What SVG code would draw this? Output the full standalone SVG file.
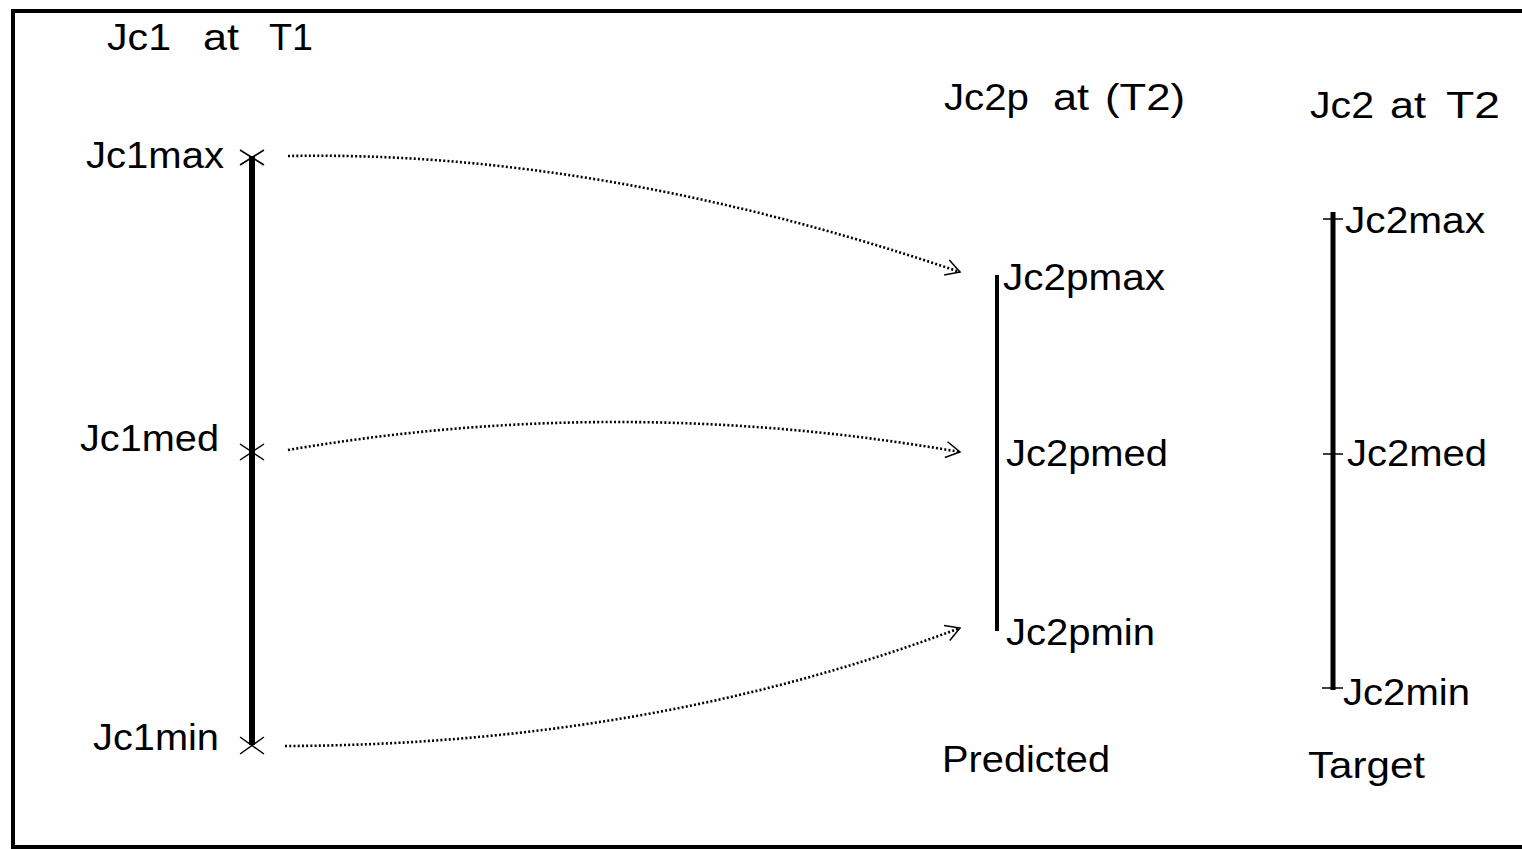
<svg xmlns="http://www.w3.org/2000/svg" width="1522" height="849" viewBox="0 0 1522 849">
  <style>
    text { font-family: "Liberation Sans", Arial, sans-serif; font-size: 36px; fill: #000; }
    .title { font-size: 37px; }
    .axis { stroke: #000; stroke-linecap: butt; }
    .tick { stroke: #000; stroke-width: 1.5; fill: none; }
    .link { fill: none; stroke: #000; stroke-width: 2.6; stroke-dasharray: 2 2.2; }
  </style>
  <defs>
    <marker id="open" markerWidth="18" markerHeight="18" refX="15" refY="9" orient="auto" markerUnits="userSpaceOnUse">
      <path d="M1,1 L15,9 L1,17" fill="none" stroke="#000" stroke-width="1.5"/>
    </marker>
  </defs>
  <rect width="1522" height="849" fill="#fff"/>
  <!-- outer frame (open on the right) -->
  <path d="M1522,11 L13,11 L13,847 L1522,847" fill="none" stroke="#000" stroke-width="4"/>

  <!-- T1 column -->
  <g id="col-t1">
    <text class="title" x="107" y="50" textLength="64" lengthAdjust="spacingAndGlyphs">Jc1</text>
    <text class="title" x="203" y="50" textLength="36" lengthAdjust="spacingAndGlyphs">at</text>
    <text class="title" x="269" y="50" textLength="44" lengthAdjust="spacingAndGlyphs">T1</text>
    <line class="axis" x1="252" y1="156" x2="252" y2="745" stroke-width="6"/>
    <path class="tick" d="M240,150 L264,165 M264,150 L240,165"/>
    <path class="tick" d="M240,444 L264,460 M264,444 L240,460"/>
    <path class="tick" d="M240,737 L264,754 M264,737 L240,754"/>
  </g>
  <g id="jc1max"><text x="86" y="168" textLength="138" lengthAdjust="spacingAndGlyphs">Jc1max</text></g>
  <g id="jc1med"><text x="80" y="451" textLength="139" lengthAdjust="spacingAndGlyphs">Jc1med</text></g>
  <g id="jc1min"><text x="93" y="750" textLength="126" lengthAdjust="spacingAndGlyphs">Jc1min</text></g>

  <!-- predicted column -->
  <g id="col-predicted">
    <text class="title" x="944" y="110" textLength="85" lengthAdjust="spacingAndGlyphs">Jc2p</text>
    <text class="title" x="1053" y="110" textLength="36" lengthAdjust="spacingAndGlyphs">at</text>
    <text class="title" x="1105" y="110" textLength="80" lengthAdjust="spacingAndGlyphs">(T2)</text>
    <line class="axis" x1="997" y1="275" x2="997" y2="631" stroke-width="4"/>
    <text x="942" y="772" textLength="168" lengthAdjust="spacingAndGlyphs">Predicted</text>
  </g>
  <g id="jc2pmax"><text x="1003" y="290" textLength="162" lengthAdjust="spacingAndGlyphs">Jc2pmax</text></g>
  <g id="jc2pmed"><text x="1006" y="466" textLength="162" lengthAdjust="spacingAndGlyphs">Jc2pmed</text></g>
  <g id="jc2pmin"><text x="1006" y="645" textLength="149" lengthAdjust="spacingAndGlyphs">Jc2pmin</text></g>

  <!-- target column -->
  <g id="col-target">
    <text class="title" x="1310" y="118" textLength="64" lengthAdjust="spacingAndGlyphs">Jc2</text>
    <text class="title" x="1390" y="118" textLength="36" lengthAdjust="spacingAndGlyphs">at</text>
    <text class="title" x="1446" y="118" textLength="54" lengthAdjust="spacingAndGlyphs">T2</text>
    <line class="axis" x1="1333" y1="212" x2="1333" y2="690" stroke-width="5"/>
    <path class="tick" d="M1323,219 L1343,219 M1323,454 L1343,454 M1322,688 L1343,688"/>
    <text x="1308" y="778" textLength="117" lengthAdjust="spacingAndGlyphs">Target</text>
  </g>
  <g id="jc2max"><text x="1345" y="233" textLength="140" lengthAdjust="spacingAndGlyphs">Jc2max</text></g>
  <g id="jc2med"><text x="1347" y="466" textLength="140" lengthAdjust="spacingAndGlyphs">Jc2med</text></g>
  <g id="jc2min"><text x="1343" y="705" textLength="127" lengthAdjust="spacingAndGlyphs">Jc2min</text></g>

  <!-- mapping connectors -->
  <g id="connectors">
    <path class="link" d="M288,156 Q600,150 960,272" marker-end="url(#open)"/>
    <path class="link" d="M288,450 Q620,393 960,452" marker-end="url(#open)"/>
    <path class="link" d="M285,746 Q650,745 960,628" marker-end="url(#open)"/>
  </g>
</svg>
